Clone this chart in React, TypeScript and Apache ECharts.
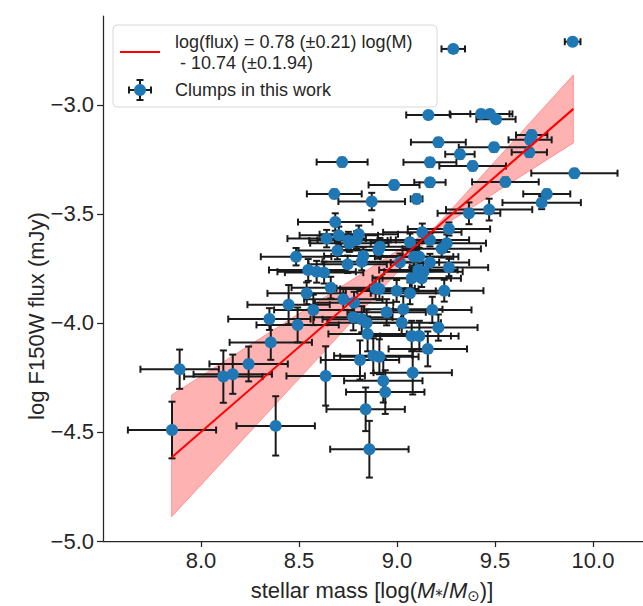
import React, { useEffect, useRef } from 'react';
import * as echarts from 'echarts';

// stellar mass log(M*/Msun)
const massX = [
  9.287, 9.896, 9.16, 9.429, 9.474, 9.505, 9.211, 9.687, 9.679, 9.495,
  9.321, 9.675, 9.168, 9.386, 9.905, 8.985, 9.168, 9.553, 9.764, 9.738,
  9.1, 8.871, 9.47, 9.367, 9.265, 9.129, 9.168, 9.066, 9.254, 9.228,
  8.913, 8.905, 9.087, 9.113, 8.68, 8.685, 8.641, 8.703, 8.752, 8.757,
  8.805, 8.794, 8.696, 8.485, 8.828, 8.82, 8.748, 8.547, 8.59, 8.628,
  8.662, 8.539, 8.447, 8.573, 8.726, 8.781, 8.349, 8.493, 8.777, 8.82,
  8.845, 8.85, 8.356, 8.811, 8.879, 8.91, 8.636, 8.243, 7.891, 8.114,
  8.162, 7.852, 8.381, 8.93, 8.94, 8.84, 8.859, 8.72, 9.015, 9.168,
  9.265, 9.109, 9.135, 9.126, 9.075, 8.891, 8.91, 8.998, 9.066, 9.241,
  8.947, 9.032, 9.18, 9.024, 9.211, 9.075, 9.114, 9.157, 9.08,
];
// log F150W flux (mJy)
const fluxY = [
  -2.743, -2.71, -3.046, -3.041, -3.041, -3.066, -3.171, -3.138, -3.16, -3.194,
  -3.226, -3.217, -3.263, -3.28, -3.313, -3.367, -3.355, -3.353, -3.408, -3.448,
  -3.431, -3.443, -3.48, -3.497, -3.569, -3.584, -3.619, -3.63, -3.634, -3.66,
  -3.65, -3.665, -3.696, -3.696, -3.408, -3.537, -3.613, -3.598, -3.622, -3.634,
  -3.593, -3.619, -3.668, -3.696, -3.693, -3.719, -3.731, -3.757, -3.765, -3.769,
  -3.838, -3.864, -3.916, -3.94, -3.891, -3.907, -3.982, -4.009, -3.974, -3.983,
  -3.999, -4.05, -4.089, -4.17, -4.15, -4.155, -4.243, -4.188, -4.212, -4.246,
  -4.235, -4.491, -4.472, -4.265, -4.317, -4.396, -4.579, -3.262, -3.722, -3.723,
  -3.746, -3.757, -3.765, -3.795, -3.795, -3.841, -3.844, -3.853, -3.864, -3.852,
  -3.951, -3.937, -3.94, -3.999, -4.021, -4.06, -4.06, -4.119, -4.228,
];
const massErr = [
  0.06, 0.04, 0.113, 0.16, 0.1, 0.1, 0.14, 0.08, 0.11, 0.18,
  0.075, 0.09, 0.135, 0.17, 0.22, 0.13, 0.08, 0.17, 0.12, 0.2,
  0.03, 0.17, 0.22, 0.16, 0.21, 0.2, 0.2, 0.2, 0.2, 0.2,
  0.2, 0.2, 0.2, 0.2, 0.14, 0.19, 0.2, 0.2, 0.2, 0.2,
  0.2, 0.2, 0.2, 0.18, 0.2, 0.2, 0.2, 0.2, 0.2, 0.2,
  0.2, 0.2, 0.21, 0.2, 0.2, 0.2, 0.21, 0.21, 0.2, 0.2,
  0.2, 0.2, 0.21, 0.2, 0.2, 0.2, 0.2, 0.2, 0.2, 0.2,
  0.2, 0.225, 0.2, 0.2, 0.2, 0.2, 0.2, 0.13, 0.2, 0.2,
  0.2, 0.2, 0.2, 0.2, 0.2, 0.2, 0.2, 0.2, 0.2, 0.2,
  0.2, 0.2, 0.2, 0.2, 0.2, 0.2, 0.2, 0.2, 0.2,
];
const fluxErr = [
  0.012, 0.012, 0.015, 0.015, 0.015, 0.015, 0.02, 0.02, 0.02, 0.02,
  0.02, 0.02, 0.02, 0.02, 0.02, 0.02, 0.02, 0.02, 0.02, 0.03,
  0.02, 0.04, 0.05, 0.05, 0.03, 0.04, 0.03, 0.04, 0.04, 0.04,
  0.04, 0.04, 0.04, 0.04, 0.02, 0.04, 0.04, 0.04, 0.04, 0.04,
  0.04, 0.04, 0.04, 0.04, 0.04, 0.04, 0.04, 0.05, 0.05, 0.05,
  0.05, 0.05, 0.09, 0.07, 0.05, 0.05, 0.05, 0.08, 0.06, 0.06,
  0.06, 0.08, 0.08, 0.09, 0.08, 0.08, 0.136, 0.08, 0.09, 0.12,
  0.09, 0.13, 0.136, 0.1, 0.1, 0.1, 0.13, 0.02, 0.04, 0.04,
  0.04, 0.04, 0.04, 0.04, 0.05, 0.05, 0.05, 0.05, 0.05, 0.05,
  0.06, 0.06, 0.06, 0.06, 0.06, 0.07, 0.07, 0.08, 0.1,
];

const fitMass = [7.85, 9.9];
const fitFlux = [-4.617, -3.018];
const bandMass = [7.85, 9.2, 9.9];
const bandUpper = [-4.33, -3.555, -2.862];
const bandLower = [-4.889, -3.575, -3.174];

const xTicks = [8.0, 8.5, 9.0, 9.5, 10.0];
const yTicks = [-5.0, -4.5, -4.0, -3.5, -3.0];

const legendFitLine1 = 'log(flux) = 0.78 (±0.21) log(M)';
const legendFitLine2 = ' - 10.74 (±0.1.94)';
const legendPoints = 'Clumps in this work';
const yTitle = 'log F150W flux (mJy)';

const FONT = "'Liberation Sans', Arial, sans-serif";
const INK = '#262626';
const BLUE = '#1f77b4';

export default function App() {
  const ref = useRef<HTMLDivElement>(null);
  useEffect(() => {
    if (!ref.current) return;
    const chart = echarts.init(ref.current, null, { renderer: 'svg' });
    const errData = massX.map((x, i) => [x, fluxY[i], massErr[i], fluxErr[i]]);
    const cap = 3.5;
    const option: any = {
      animation: false,
      backgroundColor: '#ffffff',
      grid: { left: 103, top: 16, width: 540, height: 525 },
      xAxis: {
        type: 'value',
        min: 7.5,
        max: 10.255,
        splitLine: { show: false },
        axisLine: { show: true, onZero: false, lineStyle: { color: INK, width: 1.25 } },
        axisTick: { show: true, customValues: xTicks, length: 6, lineStyle: { color: INK, width: 1.25 } },
        axisLabel: {
          customValues: xTicks,
          formatter: (v: number) => v.toFixed(1),
          fontSize: 22,
          fontFamily: FONT,
          color: INK,
          margin: 8,
        },
      },
      yAxis: {
        type: 'value',
        min: -5.0,
        max: -2.592,
        splitLine: { show: false },
        axisLine: { show: true, onZero: false, lineStyle: { color: INK, width: 1.25 } },
        axisTick: { show: true, customValues: yTicks, length: 6, lineStyle: { color: INK, width: 1.25 } },
        axisLabel: {
          customValues: yTicks,
          formatter: (v: number) => (v < 0 ? '\u2212' + Math.abs(v).toFixed(1) : v.toFixed(1)),
          fontSize: 22,
          fontFamily: FONT,
          color: INK,
          margin: 9,
        },
      },
      series: [
        {
          type: 'custom',
          name: 'band',
          z: 1,
          silent: true,
          data: [[bandMass[0], bandUpper[0]]],
          renderItem: (params: any, api: any) => {
            const pts: number[][] = [];
            for (let i = 0; i < bandMass.length; i++) pts.push(api.coord([bandMass[i], bandUpper[i]]));
            for (let i = bandMass.length - 1; i >= 0; i--) pts.push(api.coord([bandMass[i], bandLower[i]]));
            return {
              type: 'polygon',
              shape: { points: pts },
              style: { fill: 'rgba(255,0,0,0.3)', stroke: 'rgba(255,0,0,0.3)', lineWidth: 1 },
            };
          },
        },
        {
          type: 'custom',
          name: 'errorbars',
          z: 3,
          silent: true,
          dimensions: ['x', 'y', 'xe', 'ye'],
          encode: { x: 0, y: 1 },
          data: errData,
          renderItem: (params: any, api: any) => {
            const x = api.value(0);
            const y = api.value(1);
            const xe = api.value(2);
            const ye = api.value(3);
            const l = api.coord([x - xe, y]);
            const r = api.coord([x + xe, y]);
            const t = api.coord([x, y + ye]);
            const b = api.coord([x, y - ye]);
            const st = { stroke: '#1a1a1a', lineWidth: 2 };
            const ln = (x1: number, y1: number, x2: number, y2: number) => ({
              type: 'line',
              shape: { x1, y1, x2, y2 },
              style: st,
            });
            return {
              type: 'group',
              children: [
                ln(l[0], l[1], r[0], r[1]),
                ln(t[0], t[1], b[0], b[1]),
                ln(l[0], l[1] - cap, l[0], l[1] + cap),
                ln(r[0], r[1] - cap, r[0], r[1] + cap),
                ln(t[0] - cap, t[1], t[0] + cap, t[1]),
                ln(b[0] - cap, b[1], b[0] + cap, b[1]),
              ],
            };
          },
        },
        {
          type: 'scatter',
          name: 'Clumps in this work',
          z: 4,
          symbol: 'circle',
          symbolSize: 12,
          itemStyle: { color: BLUE, opacity: 1 },
          data: massX.map((x, i) => [x, fluxY[i]]),
        },
        {
          type: 'line',
          name: 'fit',
          z: 5,
          symbol: 'none',
          lineStyle: { color: '#ff0000', width: 2 },
          data: fitMass.map((x, i) => [x, fitFlux[i]]),
        },
      ],
      graphic: [
        {
          type: 'text',
          x: 36,
          y: 316,
          rotation: Math.PI / 2,
          style: {
            text: yTitle,
            fontSize: 22,
            fontFamily: FONT,
            fill: INK,
            align: 'center',
            verticalAlign: 'middle',
          },
        },
        {
          type: 'text',
          x: 372,
          y: 590,
          style: {
            text: 'stellar mass [log({i|M}{s|*}/{i|M}{s|⊙})]',
            fontSize: 22,
            fontFamily: FONT,
            fill: INK,
            align: 'center',
            verticalAlign: 'middle',
            rich: {
              i: { fontStyle: 'italic', fontSize: 22, fontFamily: FONT, fill: INK },
              s: { fontSize: 15, fontFamily: "'DejaVu Sans', sans-serif", fill: INK, padding: [12, 0, 0, 0] },
            },
          },
        },
        {
          type: 'group',
          z: 100,
          children: [
            {
              type: 'rect',
              shape: { x: 113, y: 25, width: 324, height: 82, r: 4 },
              style: { fill: 'rgba(255,255,255,0.8)', stroke: '#d8d8d8', lineWidth: 1 },
              z: 100,
            },
            {
              type: 'line',
              shape: { x1: 120, y1: 52, x2: 160, y2: 52 },
              style: { stroke: '#ff0000', lineWidth: 2 },
              z: 101,
            },
            {
              type: 'text',
              x: 175,
              y: 42,
              z: 101,
              style: { text: legendFitLine1, fontSize: 18, fontFamily: FONT, fill: INK, verticalAlign: 'middle' },
            },
            {
              type: 'text',
              x: 175,
              y: 63,
              z: 101,
              style: { text: legendFitLine2, fontSize: 18, fontFamily: FONT, fill: INK, verticalAlign: 'middle' },
            },
            {
              type: 'line',
              shape: { x1: 129, y1: 90, x2: 151, y2: 90 },
              style: { stroke: '#1a1a1a', lineWidth: 2 },
              z: 101,
            },
            {
              type: 'line',
              shape: { x1: 140, y1: 80, x2: 140, y2: 100 },
              style: { stroke: '#1a1a1a', lineWidth: 2 },
              z: 101,
            },
            { type: 'line', shape: { x1: 129, y1: 86.5, x2: 129, y2: 93.5 }, style: { stroke: '#1a1a1a', lineWidth: 2 }, z: 101 },
            { type: 'line', shape: { x1: 151, y1: 86.5, x2: 151, y2: 93.5 }, style: { stroke: '#1a1a1a', lineWidth: 2 }, z: 101 },
            { type: 'line', shape: { x1: 136.5, y1: 80, x2: 143.5, y2: 80 }, style: { stroke: '#1a1a1a', lineWidth: 2 }, z: 101 },
            { type: 'line', shape: { x1: 136.5, y1: 100, x2: 143.5, y2: 100 }, style: { stroke: '#1a1a1a', lineWidth: 2 }, z: 101 },
            {
              type: 'circle',
              shape: { cx: 140, cy: 90, r: 6 },
              style: { fill: BLUE },
              z: 102,
            },
            {
              type: 'text',
              x: 175,
              y: 90,
              z: 101,
              style: { text: legendPoints, fontSize: 18, fontFamily: FONT, fill: INK, verticalAlign: 'middle' },
            },
          ],
        },
      ],
    };
    chart.setOption(option);
    return () => chart.dispose();
  }, []);
  return (
    <div
      ref={ref}
      style={{ position: 'fixed', left: 0, top: 0, width: 643, height: 606, background: '#fff' }}
    />
  );
}
